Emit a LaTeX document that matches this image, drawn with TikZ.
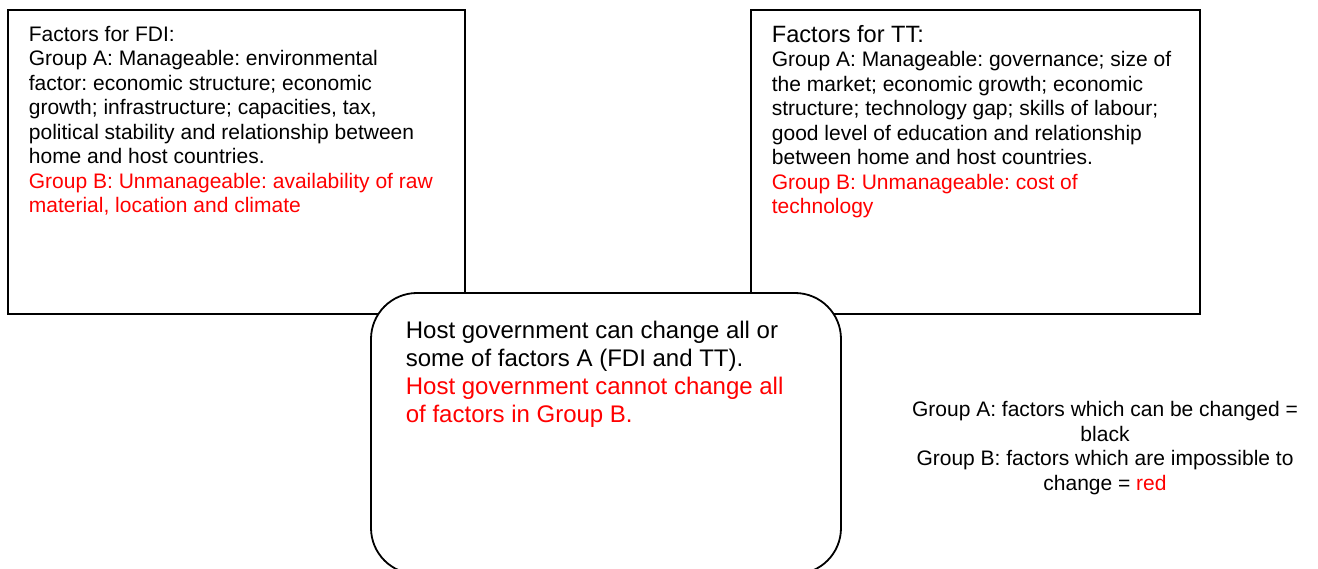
\documentclass[tikz,border=0pt]{standalone}
\usepackage{fontspec}
\setmainfont{Liberation Sans}
\usetikzlibrary{positioning}
\frenchspacing

\begin{document}
\begin{tikzpicture}[x=1pt,y=-1pt,line width=1.8pt]
  \tikzstyle{factorbox}=[draw,minimum height=304pt,inner sep=0pt]
  \tikzstyle{hostbox}=[draw,fill=white,rounded corners=46pt,minimum width=470pt,
                       minimum height=281pt,inner sep=0pt]
  \tikzstyle{bodytext}=[inner sep=0pt,align=left,font=\fontsize{21}{24.5}\selectfont]
  \tikzstyle{hosttext}=[inner sep=0pt,align=left,font=\fontsize{24}{27.7}\selectfont]

  \useasboundingbox (0,0) rectangle (1318,569);

  \node[factorbox,minimum width=457pt] (FDI)  at (236.5,162) {};
  \node[factorbox,minimum width=449pt] (TT)   at (975.5,162) {};
  \node[hostbox]                       (Host) at (606,433.5) {};

  % base = last line
  \node[bodytext,anchor=base west] (FDItext) at (28,213)
    {Factors for FDI:\\
     Group A: Manageable: environmental\\
     factor: economic structure; economic\\
     growth; infrastructure; capacities, tax,\\
     political stability and relationship between\\
     home and host countries.\\
     \textcolor{red}{Group B: Unmanageable: availability of raw}\\
     \textcolor{red}{material, location and climate}};
  \node[bodytext,anchor=base west] (TTtext) at (771,214)
    {{\fontsize{23.6}{27}\selectfont Factors for TT:}\\
     Group A: Manageable: governance; size of\\
     the market; economic growth; economic\\
     structure; technology gap; skills of labour;\\
     good level of education and relationship\\
     between home and host countries.\\
     \textcolor{red}{Group B: Unmanageable: cost of}\\
     \textcolor{red}{technology}};
  \node[hosttext,anchor=base west] (Hosttext) at (405,422)
    {Host government can change all or\\
     some of factors A (FDI and TT).\\
     \textcolor{red}{Host government cannot change all}\\
     \textcolor{red}{of factors in Group B.}};
  \node[bodytext,align=center,anchor=base] (Legend) at (1105,490)
    {Group A: factors which can be changed =\\
     black\\
     Group B: factors which are impossible to\\
     change = \textcolor{red}{red}};
\end{tikzpicture}
\end{document}
